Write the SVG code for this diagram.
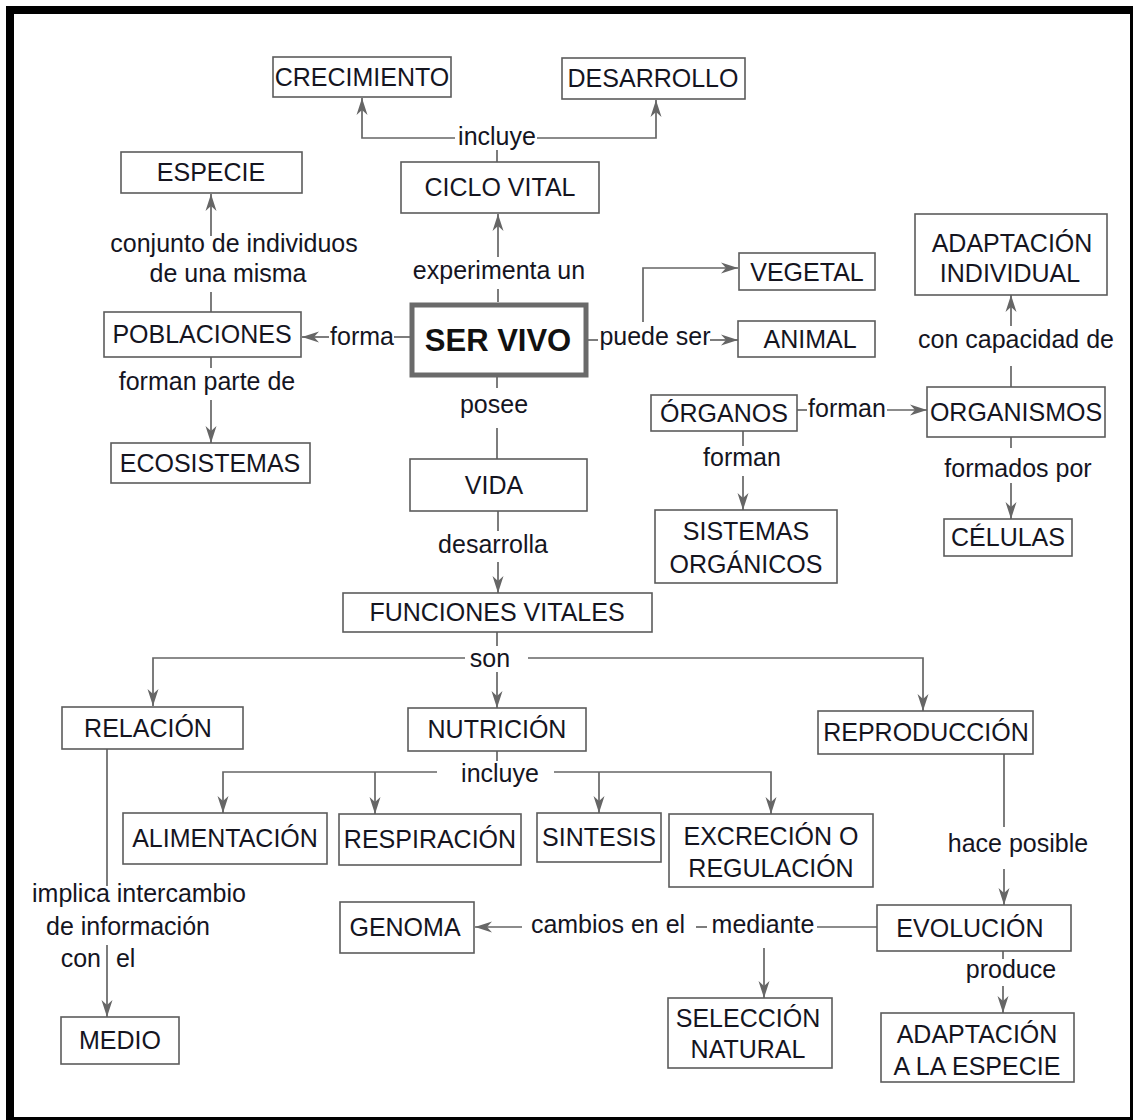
<svg xmlns="http://www.w3.org/2000/svg" width="1133" height="1120" viewBox="0 0 1133 1120">
<defs>
<style>
.box{fill:#fff;stroke:#5c5c5c;stroke-width:1.6}
.t{font-family:"Liberation Sans",Arial,sans-serif;font-size:25px;fill:#15151f;text-anchor:middle}
.lb{font-family:"Liberation Sans",Arial,sans-serif;font-size:25px;fill:#15151f;text-anchor:middle}
.conn path{fill:none;stroke:#666;stroke-width:1.7}
.a{marker-end:url(#ah)}
</style>
<marker id="ah" markerWidth="18" markerHeight="14" refX="17" refY="7" orient="auto" markerUnits="userSpaceOnUse">
<path d="M0,1.5 L17,7 L0,12.5 L5,7 z" fill="#666" stroke="none"/>
</marker>
</defs>
<rect x="0" y="0" width="1133" height="1120" fill="#fff"/>
<g id="frame" fill="#000">
<rect x="6" y="6" width="1127" height="8"/>
<rect x="6" y="6" width="8" height="1114"/>
<rect x="1130" y="6" width="3" height="1114"/>
<rect x="6" y="1117" width="1127" height="3"/>
</g>
<g id="connectors" class="conn">
<path d="M497,162 V150"/>
<path class="a" d="M455,138 H362 V98"/>
<path class="a" d="M537,138 H656 V100"/>
<path d="M498,302 V289"/>
<path class="a" d="M498,257 V214"/>
<path d="M410,337 H394"/>
<path class="a" d="M329,337 H302"/>
<path d="M211,312 V292"/>
<path class="a" d="M211,236 V194"/>
<path d="M211,357 V368"/>
<path class="a" d="M211,400 V443"/>
<path d="M588,340 H598"/>
<path class="a" d="M710,340 H738"/>
<path class="a" d="M643,322 V268 H738"/>
<path d="M497,377 V388"/>
<path d="M497,428 V459"/>
<path d="M498,511 V531"/>
<path class="a" d="M498,562 V593"/>
<path d="M497,632 V646"/>
<path class="a" d="M465,658 H153 V706"/>
<path class="a" d="M528,658 H923 V711"/>
<path class="a" d="M497,672 V708"/>
<path d="M497,751 V761"/>
<path class="a" d="M437,772 H223 V813"/>
<path class="a" d="M554,772 H771 V814"/>
<path class="a" d="M375,772 V814"/>
<path class="a" d="M599,772 V813"/>
<path d="M107,749 V886"/>
<path class="a" d="M107,945 V1017"/>
<path d="M1004,754 V827"/>
<path class="a" d="M1004,869 V905"/>
<path d="M877,927 H817"/>
<path d="M696,927 H707"/>
<path class="a" d="M522,927 H475"/>
<path class="a" d="M764,948 V998"/>
<path d="M1003,951 V959"/>
<path class="a" d="M1003,986 V1013"/>
<path d="M797,410 H807"/>
<path class="a" d="M887,410 H927"/>
<path d="M743,431 V446"/>
<path class="a" d="M743,476 V510"/>
<path d="M1011,387 V366"/>
<path class="a" d="M1011,326 V295"/>
<path d="M1011,437 V448"/>
<path class="a" d="M1011,483 V519"/>
</g>
<g id="labels">
<text class="lb" x="497" y="145">incluye</text>
<text class="lb" x="499" y="279">experimenta un</text>
<text class="lb" x="234" y="252">conjunto de individuos</text>
<text class="lb" x="228" y="282">de una misma</text>
<text class="lb" x="362" y="345">forma</text>
<text class="lb" x="207" y="390">forman parte de</text>
<text class="lb" x="655" y="345">puede ser</text>
<text class="lb" x="494" y="413">posee</text>
<text class="lb" x="493" y="553">desarrolla</text>
<text class="lb" x="1016" y="348">con capacidad de</text>
<text class="lb" x="847" y="417">forman</text>
<text class="lb" x="742" y="466">forman</text>
<text class="lb" x="1018" y="477">formados por</text>
<text class="lb" x="490" y="667">son</text>
<text class="lb" x="500" y="782">incluye</text>
<text class="lb" x="1018" y="852">hace posible</text>
<text class="lb" x="139" y="902">implica intercambio</text>
<text class="lb" x="128" y="935">de información</text>
<text class="lb" x="98" y="967">con<tspan dx="8"> el</tspan></text>
<text class="lb" x="608" y="933">cambios en el</text>
<text class="lb" x="763" y="933">mediante</text>
<text class="lb" x="1011" y="978">produce</text>
</g>
<g id="n-crecimiento"><rect class="box" x="273" y="57" width="178" height="40"/><text class="t" x="362" y="86">CRECIMIENTO</text></g>
<g id="n-desarrollo"><rect class="box" x="562" y="58" width="183" height="41"/><text class="t" x="653" y="87">DESARROLLO</text></g>
<g id="n-especie"><rect class="box" x="121" y="152" width="181" height="41"/><text class="t" x="211" y="181">ESPECIE</text></g>
<g id="n-ciclo"><rect class="box" x="401" y="162" width="198" height="51"/><text class="t" x="500" y="196">CICLO VITAL</text></g>
<g id="n-adapt-ind"><rect class="box" x="915" y="214" width="192" height="81"/><text class="t" x="1012" y="252">ADAPTACIÓN</text><text class="t" x="1010" y="282">INDIVIDUAL</text></g>
<g id="n-vegetal"><rect class="box" x="739" y="253" width="136" height="37"/><text class="t" x="807" y="281">VEGETAL</text></g>
<g id="n-poblaciones"><rect class="box" x="104" y="312" width="197" height="45"/><text class="t" x="202" y="343">POBLACIONES</text></g>
<g id="n-servivo"><rect x="412" y="305" width="174" height="70" fill="#fff" stroke="#6a6a6a" stroke-width="5"/><text x="498" y="351" text-anchor="middle" font-family="'Liberation Sans',Arial,sans-serif" font-size="31" font-weight="bold" fill="#111">SER VIVO</text></g>
<g id="n-animal"><rect class="box" x="738" y="321" width="137" height="36"/><text class="t" x="810" y="348">ANIMAL</text></g>
<g id="n-organismos"><rect class="box" x="927" y="387" width="178" height="50"/><text class="t" x="1016" y="421">ORGANISMOS</text></g>
<g id="n-organos"><rect class="box" x="651" y="395" width="146" height="36"/><text class="t" x="724" y="422">ÓRGANOS</text></g>
<g id="n-ecosistemas"><rect class="box" x="111" y="443" width="199" height="40"/><text class="t" x="210" y="472">ECOSISTEMAS</text></g>
<g id="n-vida"><rect class="box" x="410" y="459" width="177" height="52"/><text class="t" x="494" y="494">VIDA</text></g>
<g id="n-sistemas"><rect class="box" x="655" y="510" width="182" height="73"/><text class="t" x="746" y="540">SISTEMAS</text><text class="t" x="746" y="573">ORGÁNICOS</text></g>
<g id="n-celulas"><rect class="box" x="944" y="519" width="128" height="37"/><text class="t" x="1008" y="546">CÉLULAS</text></g>
<g id="n-funciones"><rect class="box" x="343" y="593" width="309" height="39"/><text class="t" x="497" y="621">FUNCIONES VITALES</text></g>
<g id="n-relacion"><rect class="box" x="62" y="707" width="181" height="42"/><text class="t" x="148" y="737">RELACIÓN</text></g>
<g id="n-nutricion"><rect class="box" x="408" y="708" width="178" height="43"/><text class="t" x="497" y="738">NUTRICIÓN</text></g>
<g id="n-reproduccion"><rect class="box" x="818" y="711" width="215" height="43"/><text class="t" x="926" y="741">REPRODUCCIÓN</text></g>
<g id="n-alimentacion"><rect class="box" x="123" y="813" width="204" height="51"/><text class="t" x="225" y="847">ALIMENTACIÓN</text></g>
<g id="n-respiracion"><rect class="box" x="339" y="814" width="182" height="51"/><text class="t" x="430" y="848">RESPIRACIÓN</text></g>
<g id="n-sintesis"><rect class="box" x="537" y="813" width="124" height="49"/><text class="t" x="599" y="846">SINTESIS</text></g>
<g id="n-excrecion"><rect class="box" x="669" y="814" width="204" height="73"/><text class="t" x="771" y="845">EXCRECIÓN O</text><text class="t" x="771" y="877">REGULACIÓN</text></g>
<g id="n-genoma"><rect class="box" x="340" y="902" width="134" height="51"/><text class="t" x="405" y="936">GENOMA</text></g>
<g id="n-evolucion"><rect class="box" x="877" y="905" width="194" height="46"/><text class="t" x="970" y="937">EVOLUCIÓN</text></g>
<g id="n-seleccion"><rect class="box" x="668" y="998" width="164" height="70"/><text class="t" x="748" y="1027">SELECCIÓN</text><text class="t" x="748" y="1058">NATURAL</text></g>
<g id="n-adapt-esp"><rect class="box" x="881" y="1013" width="193" height="69"/><text class="t" x="977" y="1043">ADAPTACIÓN</text><text class="t" x="977" y="1075">A LA ESPECIE</text></g>
<g id="n-medio"><rect class="box" x="61" y="1017" width="118" height="47"/><text class="t" x="120" y="1049">MEDIO</text></g>
</svg>
